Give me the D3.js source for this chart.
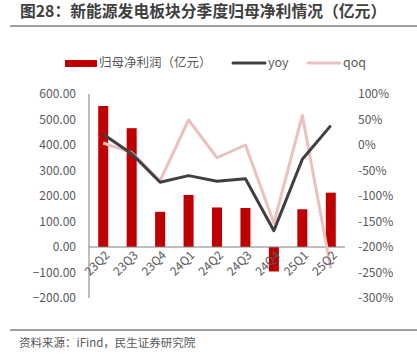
<!DOCTYPE html>
<html>
<head>
<meta charset="utf-8">
<script src="https://cdn.jsdelivr.net/npm/d3@7"></script>
<style>
  body { margin: 0; background: #fff; }
  text { font-family: "Noto Sans CJK SC", "Open Sans", sans-serif; }
</style>
</head>
<body>
<svg id="chart" width="417" height="359"></svg>
<script>
// Quarters and series
var quarters = ["23Q2", "23Q3", "23Q4", "24Q1", "24Q2", "24Q3", "24Q4", "25Q1", "25Q2"];
var profit = [553, 466, 138, 204, 155, 153, -96, 148, 213];
var yoy = [21, -17, -73, -60, -71, -66, -168, -28, 38];
var qoq = [4, -15, -70, 49, -25, 0, -153, 58, -242];
var leftTicks = [600, 500, 400, 300, 200, 100, 0, -100, -200];
var rightTicks = [100, 50, 0, -50, -100, -150, -200, -250, -300];

var svg = d3.select("#chart");
var grey = "#595959";

// Title and rules
svg.append("text")
    .attr("x", 20).attr("y", 17)
    .attr("font-size", 15.8).attr("font-weight", "bold")
    .attr("fill", "#404040")
    .text("图28：新能源发电板块分季度归母净利情况（亿元）");

svg.append("line")
    .attr("x1", 10).attr("x2", 417).attr("y1", 26).attr("y2", 26)
    .attr("stroke", "#7f7f7f").attr("stroke-width", 1.5);

svg.append("line")
    .attr("x1", 10).attr("x2", 417).attr("y1", 330).attr("y2", 330)
    .attr("stroke", "#7f7f7f").attr("stroke-width", 1.5);

svg.append("text")
    .attr("x", 19).attr("y", 347)
    .attr("font-size", 11.5).attr("fill", grey)
    .text("资料来源：iFind，民生证券研究院");

// Scales
var x = d3.scaleBand().domain(quarters).range([89, 345]);
var yL = d3.scaleLinear().domain([-200, 600]).range([298, 94]);
var yR = d3.scaleLinear().domain([-300, 100]).range([298, 94]);

// Left axis labels and line
svg.selectAll(".ltick")
    .data(leftTicks)
    .join("text")
    .attr("class", "ltick")
    .attr("x", 76).attr("y", d => yL(d))
    .attr("dy", "0.35em")
    .attr("text-anchor", "end")
    .attr("font-size", 12).attr("fill", grey)
    .text(d => d3.format(".2f")(d));

svg.append("line")
    .attr("x1", 89).attr("x2", 89).attr("y1", 94).attr("y2", 298)
    .attr("stroke", "#7f7f7f").attr("stroke-width", 1);

// Right axis labels
svg.selectAll(".rtick")
    .data(rightTicks)
    .join("text")
    .attr("class", "rtick")
    .attr("x", 358).attr("y", d => yR(d))
    .attr("dy", "0.35em")
    .attr("font-size", 12).attr("fill", grey)
    .text(d => d + "%");

// Bars
svg.selectAll(".bar")
    .data(profit)
    .join("rect")
    .attr("class", "bar")
    .attr("x", (d, i) => x(quarters[i]) + x.bandwidth() / 2 - 5)
    .attr("width", 10)
    .attr("y", d => yL(Math.max(0, d)))
    .attr("height", d => Math.abs(yL(d) - yL(0)))
    .attr("fill", "#c00000");

// Zero line
svg.append("line")
    .attr("x1", 89).attr("x2", 345).attr("y1", yL(0)).attr("y2", yL(0))
    .attr("stroke", "#7f7f7f").attr("stroke-width", 1);

// Lines
var cx = i => x(quarters[i]) + x.bandwidth() / 2;
var line = d3.line().x((d, i) => cx(i)).y(d => yR(d));

svg.append("path")
    .datum(qoq)
    .attr("d", line)
    .attr("fill", "none")
    .attr("stroke", "#ebc1c0")
    .attr("stroke-width", 3)
    .attr("stroke-linejoin", "round");

svg.append("path")
    .datum(yoy)
    .attr("d", line)
    .attr("fill", "none")
    .attr("stroke", "#404040")
    .attr("stroke-width", 3)
    .attr("stroke-linejoin", "round");

// X labels, rotated
svg.selectAll(".xlab")
    .data(quarters)
    .join("text")
    .attr("class", "xlab")
    .attr("transform", (d, i) => `translate(${cx(i) + 4},${yL(0) + 6}) rotate(-45)`)
    .attr("text-anchor", "end")
    .attr("dy", "0.35em")
    .attr("font-size", 12).attr("fill", grey)
    .text(d => d);

// Legend
var lg = svg.append("g");
lg.append("rect").attr("x", 65).attr("y", 60).attr("width", 32).attr("height", 7).attr("fill", "#c00000");
lg.append("text").attr("x", 99).attr("y", 63).attr("dy", "0.35em")
    .attr("font-size", 12.5).attr("fill", grey).text("归母净利润（亿元）");
lg.append("line").attr("x1", 233).attr("x2", 265).attr("y1", 63).attr("y2", 63)
    .attr("stroke", "#404040").attr("stroke-width", 3).attr("stroke-linecap", "round");
lg.append("text").attr("x", 268).attr("y", 63).attr("dy", "0.35em")
    .attr("font-size", 12.5).attr("fill", grey).text("yoy");
lg.append("line").attr("x1", 308).attr("x2", 340).attr("y1", 63).attr("y2", 63)
    .attr("stroke", "#ebc1c0").attr("stroke-width", 3).attr("stroke-linecap", "round");
lg.append("text").attr("x", 343).attr("y", 63).attr("dy", "0.35em")
    .attr("font-size", 12.5).attr("fill", grey).text("qoq");
</script>
</body>
</html>
